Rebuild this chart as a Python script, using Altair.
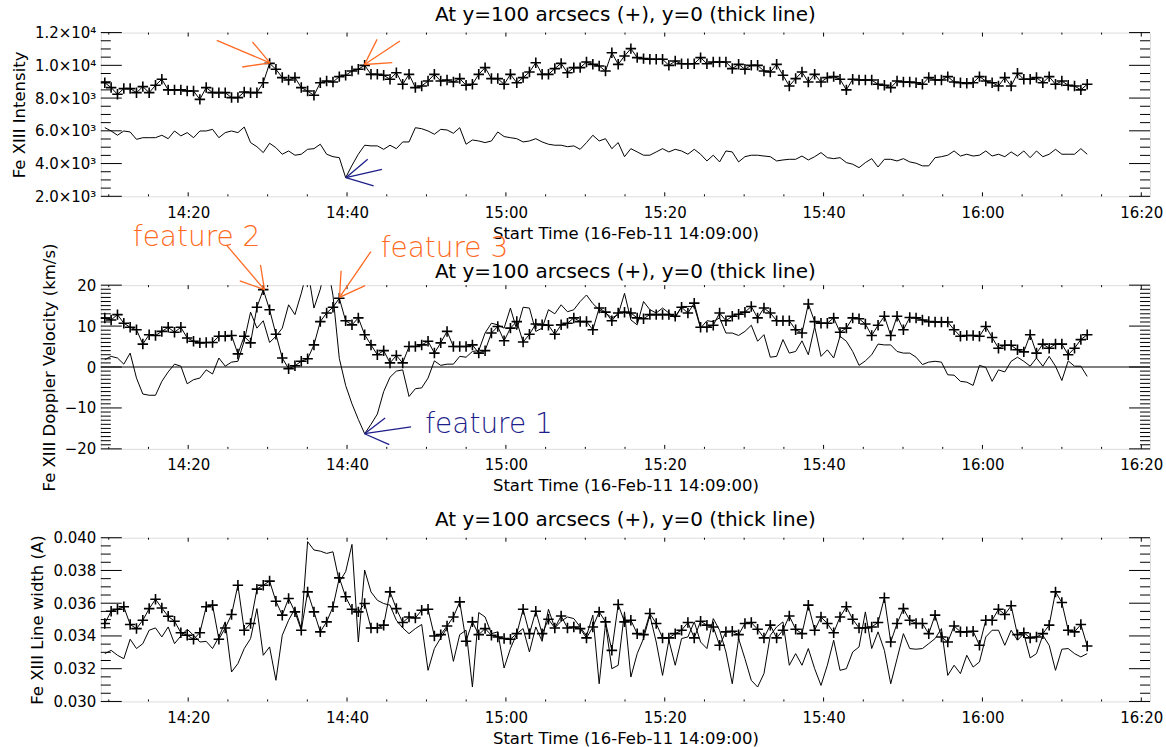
import altair as alt
import pandas as pd

# ---------------- data ----------------
START_MIN = 849.5          # first sample, minutes of day (14:09:30)
CADENCE_MIN = 0.798        # sampling cadence in minutes
X_DOMAIN = [849.0, 981.1]  # 14:09 .. 16:21

INT_100 = [
    8940, 8640, 8230, 8580, 8580, 8330, 8700, 8330, 8780, 9150,
    8500, 8500, 8500, 8430, 8430, 7920, 8640, 8330, 8330, 8330,
    8030, 8030, 8370, 8330, 8330, 8940, 10120, 9760, 9250, 9100,
    9250, 8640, 8430, 8170, 8940, 9040, 8980, 9310, 9390, 9650,
    9760, 10000, 9450, 9450, 9390, 9150, 9550, 8840, 9450, 8640,
    8740, 9040, 9450, 9040, 9100, 8980, 9190, 8780, 8840, 9450,
    9860, 9190, 9190, 8840, 9450, 8940, 9250, 9590, 10160, 9450,
    9450, 9800, 10120, 9550, 9860, 9860, 10200, 10060,
    9960, 9650, 10770, 10060, 10570, 11020, 10470, 10410, 10370, 10370,
    10370, 10000, 10260, 10100, 10100, 10100, 10470, 10100, 10200, 10200,
    10200, 9800, 10060, 9760, 10000, 10000, 9650, 9590, 10060, 9390,
    8740, 9190, 9590, 8980, 9450, 8980, 9250, 9310, 9150, 8500,
    9150, 9100, 9100, 9100, 8840, 8780, 8640, 9040, 8980, 8980,
    8940, 8840, 9250, 9100, 9100, 9310, 8980, 8940, 8900, 8940,
    9310, 9040, 8940, 8740, 9250, 8740, 9510, 9150, 9150, 9250,
    8940, 9310, 8840, 9040, 8780, 8740, 8500, 8840,
]
INT_0 = [
    6195, 5990, 5730, 5990, 5930, 5480, 5580, 5580, 5580, 5730,
    5520, 5990, 5690, 5890, 5580, 5990, 5990, 6090, 5580, 5890,
    5990, 5890, 6230, 5280, 5030, 4670, 5240, 4970, 4570, 4770,
    4510, 4570, 4870, 4910, 5180, 4570, 4420, 4360, 3140, 3890,
    4570, 5120, 5080, 5080, 4870, 5120, 4910, 5320, 5320, 6190,
    6130, 5990, 5790, 6090, 6050, 5850, 6190, 5180, 5440, 5380,
    5280, 5380, 5930, 5650, 5580, 5520, 5320, 5380, 5520, 5320,
    5180, 5120, 5120, 5030, 5080, 4870, 5280, 5730,
    5380, 5520, 4910, 5280, 4420, 4910, 4710, 4510, 4510, 4710,
    4910, 4710, 4870, 4770, 4570, 4870, 4570, 4160, 4510, 4100,
    4770, 4710, 4100, 4420, 4510, 4510, 4460, 4420, 4160, 4220,
    4260, 4260, 4460, 4220, 4420, 4670, 4360, 4300, 4360, 4060,
    3960, 3750, 4060, 4300, 3790, 4260, 4260, 4160, 4300, 4100,
    4020, 3860, 3860, 4360, 4420, 4510, 4770, 4460, 4570, 4460,
    4510, 4770, 4460, 4570, 4420, 4710, 4460, 4770, 4360, 4770,
    4420, 4570, 4870, 4570, 4570, 4570, 4910, 4570,
]
VEL_100 = [
    11.95, 11.5, 12.8, 10.7, 9.7, 9.1, 5.6, 7.9, 7.7, 8.7,
    9.7, 8.5, 9.7, 7.1, 6.3, 5.9, 6.0, 6.0, 7.5, 7.5,
    7.7, 3.2, 7.5, 5.9, 14.6, 18.9, 14.0, 8.0, 2.2, -0.4,
    0.3, 1.4, 2.0, 5.4, 11.1, 13.2, 14.6, 16.8, 11.3, 10.3,
    12.0, 7.9, 5.4, 3.0, 4.0, 1.0, 2.8, 1.0, 5.0, 5.0,
    5.4, 6.3, 3.4, 5.9, 8.7, 5.0, 5.0, 5.0, 5.4, 3.4,
    4.0, 8.3, 9.9, 6.4, 9.5, 11.1, 6.1, 8.0, 10.5, 10.3,
    10.2, 8.0, 10.3, 10.7, 12.0, 11.1, 11.1, 9.1,
    14.4, 13.4, 11.3, 13.2, 13.4, 13.2, 12.0, 11.8, 12.8, 12.8,
    12.8, 12.8, 12.4, 14.6, 13.2, 15.6, 9.7, 9.7, 10.2, 13.2,
    11.3, 12.4, 12.9, 13.4, 14.8, 12.0, 14.4, 13.2, 11.3, 11.3,
    11.3, 9.1, 8.3, 15.4, 11.1, 10.7, 10.7, 12.0, 8.5, 9.5,
    12.0, 11.8, 10.5, 7.7, 10.2, 12.4, 7.7, 12.4, 9.1, 12.1,
    12.0, 11.5, 11.1, 11.0, 11.0, 11.0, 9.1, 7.5, 7.7, 7.7,
    7.5, 9.9, 7.2, 4.6, 5.3, 5.3, 4.2, 3.7, 7.9, 3.4,
    5.6, 4.6, 5.6, 5.6, 3.0, 4.6, 6.7, 7.9,
]
VEL_0 = [
    1.8, 2.6, 2.2, 0.7, 3.4, -2.7, -6.6, -6.9, -6.9, -3.5,
    -1.2, 0.7, 0.2, -4.1, -3.1, -2.7, -0.7, -1.7, 2.2, 0.2,
    1.2, 1.4, 6.4, 13.4, 9.5, 11.3, 6.0, 7.5, 9.5, 15.2,
    12.8, 18.0, 24.0, 14.4, 19.0, 26.0, 17.5, 2.1, -4.5, -9.0,
    -12.8, -16.3, -14.0, -11.5, -6.0, -2.5, -1.0, -0.7, -7.2, -5.3,
    -5.1, -2.7, 1.5, 0.4, 0.7, 0.7, 2.6, 2.4, 3.8, 4.0,
    8.3, 10.7, 10.3, 9.5, 14.4, 9.1, 14.6, 14.4, 8.7, 9.5,
    14.0, 13.0, 15.2, 13.5, 14.0, 16.0, 17.6, 15.5,
    14.0, 13.2, 12.0, 12.8, 18.0, 11.5, 10.3, 16.0, 14.0, 13.2,
    14.4, 13.2, 12.0, 14.8, 14.8, 14.8, 9.5, 11.3, 11.1, 12.0,
    8.3, 8.3, 7.7, 8.7, 10.2, 6.3, 7.9, 2.4, 2.6, 6.7,
    3.4, 3.8, 6.4, 3.0, 9.9, 2.6, 4.2, 2.2, 7.5, 6.3,
    3.8, 0.4, 1.5, 3.0, 5.6, 5.4, 5.4, 3.8, 3.4, 3.4,
    2.4, 0.6, 1.2, 1.4, 1.2, -1.9, -2.0, -3.5, -3.7, -4.5,
    0.4, -0.1, -3.5, -0.7, -1.2, 1.4, 2.4, 1.4, 0.2, 2.2,
    0.2, 2.6, 0.2, -3.3, 1.5, 0.2, 0.2, -2.3,
]
WID_100 = [
    0.03476, 0.03551, 0.03563, 0.03578, 0.03470, 0.03445, 0.03496, 0.03567, 0.03624, 0.03571,
    0.03520, 0.03490, 0.03420, 0.03404, 0.03380, 0.03420, 0.03578, 0.03588, 0.03380, 0.03449,
    0.03531, 0.03710, 0.03435, 0.03476, 0.03686, 0.03710, 0.03735, 0.03612, 0.03527, 0.03629,
    0.03547, 0.03435, 0.03669, 0.03547, 0.03425, 0.03486, 0.03578, 0.03755, 0.03639, 0.03563,
    0.03547, 0.03598, 0.03449, 0.03449, 0.03466, 0.03669, 0.03567, 0.03482, 0.03516, 0.03510,
    0.03557, 0.03563, 0.03400, 0.03408, 0.03461, 0.03516, 0.03608, 0.03368, 0.03486, 0.03408,
    0.03445, 0.03404, 0.03394, 0.03384, 0.03380, 0.03414, 0.03563, 0.03414, 0.03551, 0.03414,
    0.03502, 0.03449, 0.03522, 0.03449, 0.03455, 0.03445, 0.03388, 0.03455,
    0.03547, 0.03486, 0.03312, 0.03592, 0.03486, 0.03496, 0.03414, 0.03408, 0.03537, 0.03476,
    0.03388, 0.03388, 0.03414, 0.03435, 0.03482, 0.03388, 0.03490, 0.03466, 0.03455, 0.03343,
    0.03425, 0.03429, 0.03408, 0.03476, 0.03482, 0.03441, 0.03388, 0.03466, 0.03388, 0.03435,
    0.03522, 0.03441, 0.03414, 0.03588, 0.03435, 0.03516, 0.03476, 0.03420, 0.03516, 0.03578,
    0.03502, 0.03449, 0.03449, 0.03455, 0.03482, 0.03633, 0.03363, 0.03476, 0.03567, 0.03496,
    0.03476, 0.03476, 0.03414, 0.03527, 0.03394, 0.03363, 0.03461, 0.03425, 0.03425, 0.03429,
    0.03343, 0.03496, 0.03496, 0.03563, 0.03531, 0.03584, 0.03408, 0.03420, 0.03388, 0.03394,
    0.03414, 0.03466, 0.03669, 0.03604, 0.03435, 0.03425, 0.03470, 0.03339,
]
WID_0 = [
    0.03292, 0.03312, 0.03282, 0.03261, 0.03380, 0.03323, 0.03353, 0.03435, 0.03449, 0.03394,
    0.03455, 0.03353, 0.03400, 0.03441, 0.03404, 0.03363, 0.03367, 0.03323, 0.03394, 0.03486,
    0.03180, 0.03231, 0.03323, 0.03384, 0.03567, 0.03282, 0.03333, 0.03129, 0.03404, 0.03496,
    0.03567, 0.03445, 0.03976, 0.03925, 0.03918, 0.03904, 0.03914, 0.03731, 0.03792, 0.03959,
    0.03363, 0.03802, 0.03669, 0.03618, 0.03598, 0.03588, 0.03496, 0.03449, 0.03414, 0.03445,
    0.03470, 0.03190, 0.03323, 0.03388, 0.03449, 0.03245, 0.03408, 0.03435, 0.03088, 0.03543,
    0.03516, 0.03414, 0.03425, 0.03204, 0.03323, 0.03414, 0.03445, 0.03302, 0.03455, 0.03367,
    0.03563, 0.03449, 0.03490, 0.03516, 0.03506, 0.03455, 0.03400, 0.03527,
    0.03108, 0.03476, 0.03200, 0.03221, 0.03547, 0.03149, 0.03292, 0.03384, 0.03527, 0.03363,
    0.03159, 0.03374, 0.03221, 0.03384, 0.03394, 0.03486, 0.03363, 0.03323, 0.03506, 0.03435,
    0.03302, 0.03108, 0.03384, 0.03261, 0.03129, 0.03088, 0.03170, 0.03404, 0.03455, 0.03486,
    0.03221, 0.03292, 0.03221, 0.03323, 0.03200, 0.03098, 0.03221, 0.03374, 0.03190, 0.03200,
    0.03302, 0.03333, 0.03547, 0.03323, 0.03425, 0.03312, 0.03108, 0.03261, 0.03414, 0.03323,
    0.03319, 0.03323, 0.03353, 0.03384, 0.03445, 0.03159, 0.03221, 0.03170, 0.03282, 0.03210,
    0.03241, 0.03394, 0.03435, 0.03435, 0.03343, 0.03435, 0.03374, 0.03414, 0.03266, 0.03292,
    0.03404, 0.03343, 0.03190, 0.03319, 0.03323, 0.03292, 0.03272, 0.03292,
]
N = len(INT_100)
for s in (INT_0, VEL_100, VEL_0, WID_100, WID_0):
    assert len(s) == N, len(s)
TIME = [round(START_MIN + CADENCE_MIN * i, 3) for i in range(N)]

X_MAJOR = [860, 880, 900, 920, 940, 960, 980]
X_MINOR = [m for m in range(850, 981, 5) if m % 20 != 0]

TITLE = "At y=100 arcsecs (+), y=0 (thick line)"
X_TITLE = "Start Time (16-Feb-11 14:09:00)"
ORANGE = "#ff6a22"
NAVY = "#1e1e8a"

# annotation arrows: tip (t, v) and the three free ends
ARROWS_P1 = [
    (870.3, 10150, 863.6, 11526, ORANGE), (870.3, 10150, 868.1, 11425, ORANGE),
    (870.3, 10150, 866.8, 9898, ORANGE),
    (882.2, 10050, 886.66, 11486, ORANGE), (882.2, 10050, 883.78, 11587, ORANGE),
    (882.2, 10050, 885.7, 10163, ORANGE),
    (879.85, 3140, 884.4, 3651, NAVY), (879.85, 3140, 882.6, 4261, NAVY),
    (879.85, 3140, 883.35, 2633, NAVY),
]
ARROWS_P2 = [
    (869.6, 18.9, 864.8, 29.84, ORANGE), (869.6, 18.9, 869.1, 24.96, ORANGE),
    (869.6, 18.9, 866.5, 21.06, ORANGE),
    (879.05, 17.0, 883.0, 28.2, ORANGE), (879.05, 17.0, 879.25, 23.5, ORANGE),
    (879.05, 17.0, 882.27, 19.9, ORANGE),
    (882.2, -16.3, 888.06, -14.63, NAVY), (882.2, -16.3, 884.8, -12.44, NAVY),
    (882.2, -16.3, 885.32, -18.94, NAVY),
]
LABELS_P2 = [("feature 2", 861.06, 31.6, ORANGE), ("feature 3", 892.26, 28.8, ORANGE),
             ("feature 1", 897.88, -14.07, NAVY)]

# ---------------- chart ----------------
W, H = 1051, 164
FONT = "DejaVu Sans"
PLUS = "M-1,0L1,0M0,-1L0,1"

x_scale = alt.Scale(domain=X_DOMAIN, nice=False, zero=False)
x_axis = alt.Axis(values=X_MAJOR, ticks=False, domain=False, grid=False,
                  labelExpr="floor(datum.value/60) + ':' + (datum.value % 60 < 10 ? '0' : '') + (datum.value % 60)",
                  labelFont=FONT, labelFontSize=15, labelColor="black", labelPadding=9,
                  labelFlush=False, title=X_TITLE, titleFont=FONT, titleFontSize=16.5,
                  titleFontWeight="normal", titleColor="black", titlePadding=5)


def panel(y100, y0, domain, majors, minors, ytitle, label_kw, arrows, labels=None,
          zero=False, title_dy=0):
    ysc = alt.Scale(domain=domain, nice=False, zero=False)
    yax = alt.Axis(values=majors, ticks=False, domain=False, grid=False,
                   labelFont=FONT, labelFontSize=15, labelColor="black", labelPadding=5,
                   labelFlush=False, title=ytitle, titleFont=FONT, titleFontSize=16.5,
                   titleFontWeight="normal", titleColor="black", titlePadding=7, **label_kw)
    X = alt.X("t:Q", scale=x_scale, axis=x_axis)
    df = pd.DataFrame({"t": TIME, "a": y100, "b": y0})
    layers = [
        alt.Chart(df).mark_line(color="black", strokeWidth=1, clip=True).encode(
            x=X, y=alt.Y("b:Q", scale=ysc, axis=yax)),
        alt.Chart(df).mark_line(color="black", strokeWidth=1, clip=True).encode(
            x=X, y=alt.Y("a:Q", scale=ysc, axis=yax)),
        alt.Chart(df).mark_point(shape=PLUS, size=110, filled=False, strokeWidth=1.6,
                                 color="black", opacity=1, clip=True).encode(
            x=X, y=alt.Y("a:Q", scale=ysc, axis=yax)),
    ]
    if zero:
        layers.append(alt.Chart(pd.DataFrame({"v": [0]})).mark_rule(color="black", strokeWidth=1).encode(
            y=alt.Y("v:Q", scale=ysc, axis=yax)))
    # inward y ticks on both sides
    for vals, ln in ((majors, 21), (minors, 10)):
        tdf = pd.DataFrame({"v": vals})
        layers.append(alt.Chart(tdf).mark_rule(color="black", strokeWidth=1).encode(
            y=alt.Y("v:Q", scale=ysc, axis=yax), x=alt.value(0), x2=alt.value(ln)))
        layers.append(alt.Chart(tdf).mark_rule(color="black", strokeWidth=1).encode(
            y=alt.Y("v:Q", scale=ysc, axis=yax), x=alt.value(W - ln), x2=alt.value(W)))
    # inward x ticks top and bottom
    for vals, ln in ((X_MAJOR, 4), (X_MINOR, 2)):
        tdf = pd.DataFrame({"t": vals})
        layers.append(alt.Chart(tdf).mark_rule(color="black", strokeWidth=1).encode(
            x=X, y=alt.value(H - ln), y2=alt.value(H)))
        layers.append(alt.Chart(tdf).mark_rule(color="black", strokeWidth=1).encode(
            x=X, y=alt.value(0), y2=alt.value(ln)))
    if arrows:
        adf = pd.DataFrame(arrows, columns=["t1", "v1", "t2", "v2", "c"])
        layers.append(alt.Chart(adf).mark_rule(strokeWidth=1.3).encode(
            x=alt.X("t1:Q", scale=x_scale, axis=x_axis), x2="t2:Q",
            y=alt.Y("v1:Q", scale=ysc, axis=yax), y2="v2:Q",
            color=alt.Color("c:N", scale=None)))
    if labels:
        ldf = pd.DataFrame(labels, columns=["txt", "t", "v", "c"])
        layers.append(alt.Chart(ldf).mark_text(font=FONT, fontSize=28, fontWeight=200,
                                               align="center", baseline="middle").encode(
            x=X, y=alt.Y("v:Q", scale=ysc, axis=yax), text="txt:N",
            color=alt.Color("c:N", scale=None)))
    return alt.layer(*layers).properties(
        width=W, height=H,
        title=alt.TitleParams(TITLE, font=FONT, fontSize=20, fontWeight="normal",
                              color="black", anchor="middle", frame="group", offset=1,
                              dy=title_dy))


p1 = panel(INT_100, INT_0, [2000, 12000], list(range(2000, 12001, 2000)),
           [v for v in range(2500, 12000, 500) if v % 2000 != 0], "Fe XIII Intensity",
           {"labelExpr": "datum.value >= 10000 ? format(datum.value/10000, '.1f') + '×10⁴' : format(datum.value/1000, '.1f') + '×10³'"},
           ARROWS_P1)
p2 = panel(VEL_100, VEL_0, [-20, 20], [-20, -10, 0, 10, 20],
           [v for v in range(-19, 20) if v % 10 != 0], "Fe XIII Doppler Velocity (km/s)",
           {"format": "d"}, ARROWS_P2, LABELS_P2, zero=True, title_dy=59)
p3 = panel(WID_100, WID_0, [0.030, 0.040], [round(0.030 + 0.002 * i, 3) for i in range(6)],
           [round(i * 0.0005, 4) for i in range(61, 80) if i % 4 != 0], "Fe XIII Line width (A)",
           {"format": ".3f"}, [])

chart = alt.vconcat(p1, p2, p3, spacing=89, bounds="flush").properties(
    padding={"left": 10, "top": 3, "right": 2, "bottom": 0},
    background="white",
).configure_view(stroke="black", strokeWidth=1).configure(font=FONT)

chart.save("out.html", embed_options={"renderer": "svg", "actions": False})
